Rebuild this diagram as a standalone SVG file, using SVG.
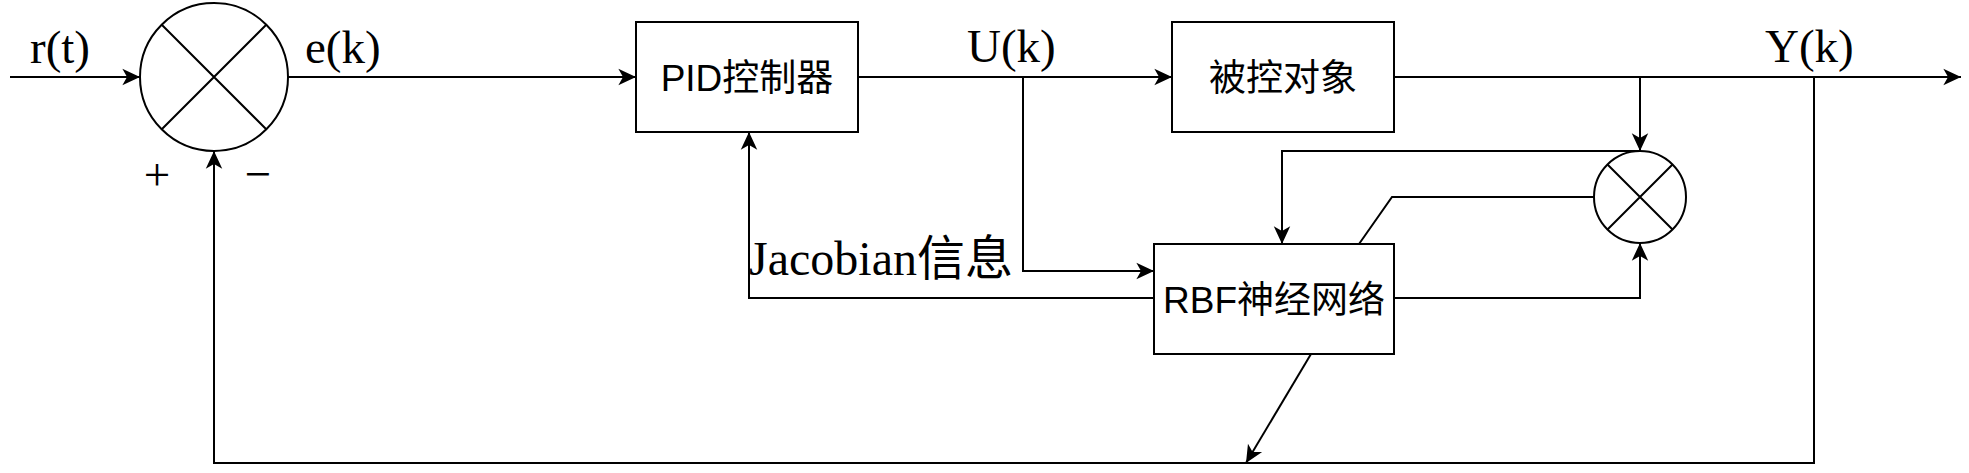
<svg xmlns="http://www.w3.org/2000/svg" width="1969" height="473" viewBox="0 0 1969 473">
<defs>
<marker id="arr" markerUnits="userSpaceOnUse" markerWidth="20" markerHeight="20" viewBox="-16 -8 17 16" refX="0" refY="0" orient="auto">
<path d="M0,0 L-15,-7 L-11,0 L-15,7 Z" fill="#000"/>
</marker>
</defs>
<style>
.box{fill:#fff;stroke:#000;stroke-width:2}
.sum{fill:#fff;stroke:#000;stroke-width:2}
.x{stroke:#000;stroke-width:2;fill:none}
.c{fill:none;stroke:#000;stroke-width:2}
.ca{fill:none;stroke:#000;stroke-width:2;marker-end:url(#arr)}
.bl{font-family:"Liberation Sans","Noto Sans CJK SC",sans-serif;font-size:37px;fill:#000;text-anchor:middle;dominant-baseline:central}
.tl{font-family:"Liberation Serif","Noto Sans CJK SC",serif;font-size:47px;fill:#000}
</style>
<rect x="0" y="0" width="1969" height="473" fill="#fff"/>
<g id="connectors">
<path class="ca" d="M10,77 H140"/>
<path class="ca" d="M288,77 H636"/>
<path class="ca" d="M858,77 H1172"/>
<path class="ca" d="M1023,77 V271 H1154"/>
<path class="ca" d="M1394,77 H1961"/>
<path class="ca" d="M1640,77 V151"/>
<path class="ca" d="M1640,151 H1282 V244"/>
<path class="c" d="M1594,197 H1392 L1359,244"/>
<path class="ca" d="M1394,298 H1640 V243"/>
<path class="ca" d="M1154,298 H749 V132"/>
<path class="ca" d="M1311,354 L1246,463"/>
<path class="ca" d="M1814,77 V463 H214 V151"/>
</g>
<g id="sum1">
<circle class="sum" cx="214" cy="77" r="74"/>
<path class="x" d="M162,25 L266,129 M266,25 L162,129"/>
</g>
<g id="pid">
<rect class="box" x="636" y="22" width="222" height="110"/>
<text class="bl" x="747" y="78">PID控制器</text>
</g>
<g id="plant">
<rect class="box" x="1172" y="22" width="222" height="110"/>
<text class="bl" x="1283" y="78">被控对象</text>
</g>
<g id="rbf">
<rect class="box" x="1154" y="244" width="240" height="110"/>
<text class="bl" x="1274" y="300">RBF神经网络</text>
</g>
<g id="sum2">
<circle class="sum" cx="1640" cy="197" r="46"/>
<path class="x" d="M1607.5,164.5 L1672.5,229.5 M1672.5,164.5 L1607.5,229.5"/>
</g>
<g id="labels">
<text class="tl" x="30" y="63">r(t)</text>
<text class="tl" x="305" y="63">e(k)</text>
<text class="tl" x="967" y="62">U(k)</text>
<text class="tl" x="1765" y="62">Y(k)</text>
<text class="tl" x="749" y="275" style="font-size:48px">Jacobian信息</text>
<text class="tl" x="157" y="190" text-anchor="middle">+</text>
<text class="tl" x="258" y="190" text-anchor="middle">−</text>
</g>
</svg>
